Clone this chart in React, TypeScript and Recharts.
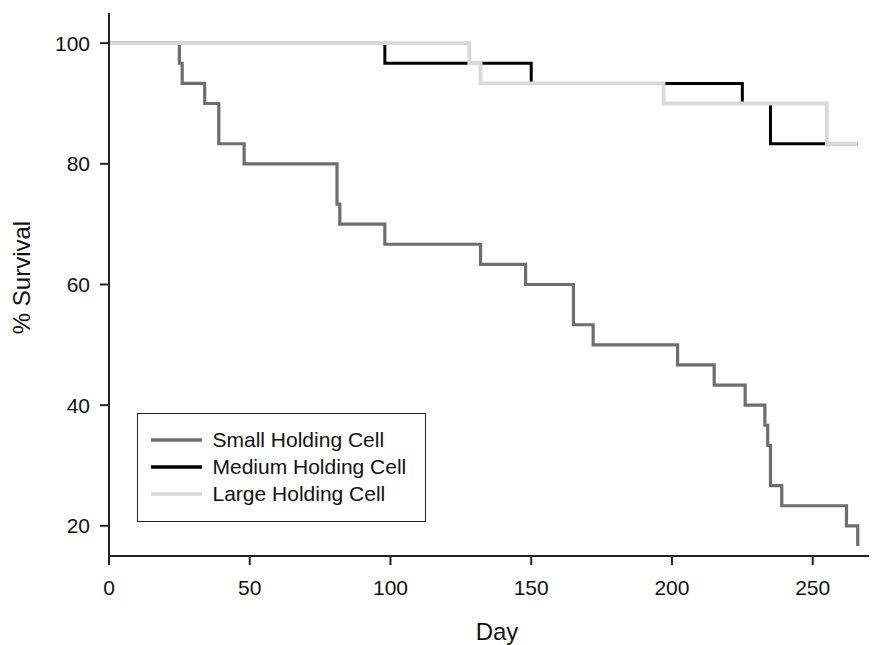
import React from 'react';
import { LineChart, Line, XAxis, YAxis, Legend } from 'recharts';

// Kaplan-Meier steps: day of each drop and survival after it
const smallDays = [0, 25, 26, 34, 39, 48, 81, 82, 98, 132, 148, 165, 172, 202, 215, 226, 233, 234, 235, 239, 262, 266];
const smallSurvival = [100, 96.67, 93.33, 90, 83.33, 80, 73.33, 70, 66.67, 63.33, 60, 53.33, 50, 46.67, 43.33, 40, 36.67, 33.33, 26.67, 23.33, 20, 16.67];

const mediumDays = [0, 98, 150, 225, 235, 266];
const mediumSurvival = [100, 96.67, 93.33, 90, 83.33, 83.33];

const largeDays = [0, 128, 132, 197, 255, 266];
const largeSurvival = [100, 96.67, 93.33, 90, 83.33, 83.33];

const xTicks = [0, 50, 100, 150, 200, 250];
const yTicks = [20, 40, 60, 80, 100];

const seriesNames = ['Small Holding Cell', 'Medium Holding Cell', 'Large Holding Cell'];
const seriesColors = ['#6e6e6e', '#000000', '#d9d9d9'];
// the light line sits on top of the black one, a touch wider so no dark edge bleeds through
const seriesWidths = [3.2, 3, 3.8];

const toRows = (days: number[], vals: number[]) => days.map((day, i) => ({ day, survival: vals[i] }));

const series = [
  toRows(smallDays, smallSurvival),
  toRows(mediumDays, mediumSurvival),
  toRows(largeDays, largeSurvival),
];

const FONT = '"Liberation Sans", Arial, sans-serif';
const AXIS = '#222';

const LegendBox = () => (
  <div
    style={{
      boxSizing: 'border-box',
      width: 289,
      height: 109,
      border: `1.5px solid ${AXIS}`,
      background: '#fff',
      paddingTop: 12,
      paddingLeft: 12.5,
      fontFamily: FONT,
    }}
  >
    {seriesNames.map((name, i) => (
      <div key={name} style={{ display: 'flex', alignItems: 'center', height: 27 }}>
        <svg width={51} height={6} style={{ marginRight: 11 }}>
          <line x1={0} y1={3} x2={51} y2={3} stroke={seriesColors[i]} strokeWidth={3.5} />
        </svg>
        <span style={{ fontSize: 21, color: '#111', whiteSpace: 'nowrap' }}>{name}</span>
      </div>
    ))}
  </div>
);

export default function App() {
  return (
    <div style={{ position: 'absolute', left: 0, top: 0 }}>
      <LineChart
        width={879}
        height={645}
        margin={{ top: 13, right: 10, bottom: 0, left: 0 }}
        style={{ fontFamily: FONT }}
      >
        <XAxis
          type="number"
          dataKey="day"
          domain={[0, 270]}
          ticks={xTicks}
          height={89}
          tickSize={9}
          tickMargin={15}
          axisLine={{ stroke: AXIS, strokeWidth: 2 }}
          tickLine={{ stroke: AXIS, strokeWidth: 2 }}
          tick={{ fill: '#111', fontSize: 21 }}
          label={{ value: 'Day', position: 'center', dx: 8, dy: 31, fontSize: 24, fill: '#111' }}
        />
        <YAxis
          type="number"
          domain={[15, 105]}
          ticks={yTicks}
          width={109}
          tickSize={9}
          tickMargin={10}
          axisLine={{ stroke: AXIS, strokeWidth: 2 }}
          tickLine={{ stroke: AXIS, strokeWidth: 2 }}
          tick={{ fill: '#111', fontSize: 21 }}
          label={{ value: '% Survival', position: 'center', angle: -90, dx: -33, dy: -7, fontSize: 24, fill: '#111' }}
        />
        <Legend
          layout="horizontal"
          verticalAlign="middle"
          align="center"
          wrapperStyle={{ left: 137, top: 413, width: 289, height: 109 }}
          content={() => <LegendBox />}
        />
        {series.map((rows, i) => (
          <Line
            key={seriesNames[i]}
            name={seriesNames[i]}
            data={rows}
            dataKey="survival"
            type="stepAfter"
            stroke={seriesColors[i]}
            strokeWidth={seriesWidths[i]}
            dot={false}
            activeDot={false}
            isAnimationActive={false}
          />
        ))}
      </LineChart>
    </div>
  );
}
